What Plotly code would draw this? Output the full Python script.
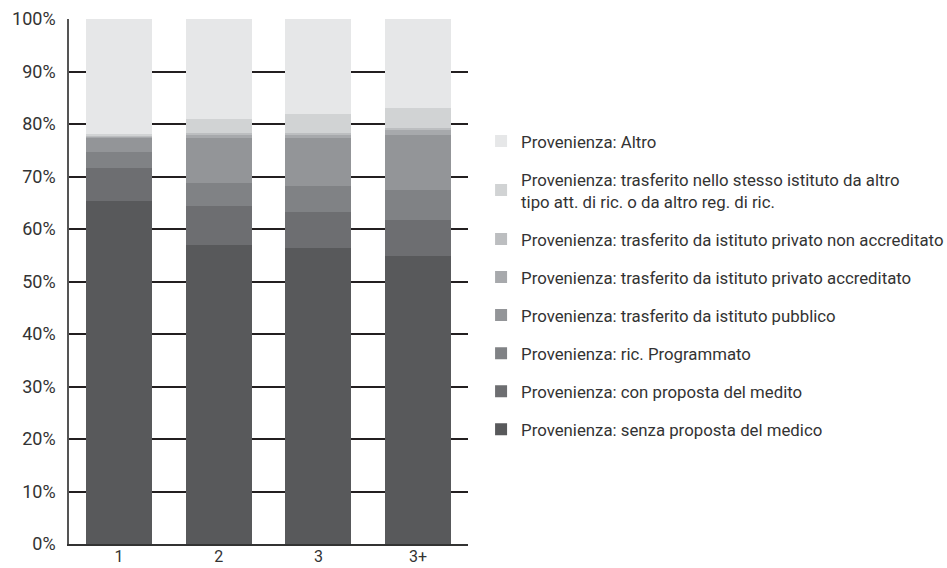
import plotly.graph_objects as go

categories = ["1", "2", "3", "3+"]
series_names = [
    "Provenienza: senza proposta del medico",
    "Provenienza: con proposta del medito",
    "Provenienza: ric. Programmato",
    "Provenienza: trasferito da istituto pubblico",
    "Provenienza: trasferito da istituto privato accreditato",
    "Provenienza: trasferito da istituto privato non accreditato",
    "Provenienza: trasferito nello stesso istituto da altro<br>tipo att. di ric. o da altro reg. di ric.",
    "Provenienza: Altro",
]
senza = [65.4, 57.0, 56.4, 54.9]
con_proposta = [6.2, 7.4, 6.8, 6.8]
ric_programmato = [3.1, 4.4, 5.0, 5.7]
pubblico = [2.8, 8.6, 9.2, 10.5]
privato_accreditato = [0.2, 0.6, 0.6, 0.9]
privato_non_accreditato = [0.2, 0.3, 0.3, 0.4]
stesso_istituto = [0.2, 2.7, 3.6, 3.8]
altro = [21.9, 19.0, 18.1, 17.0]
y_ticks = [0, 10, 20, 30, 40, 50, 60, 70, 80, 90, 100]

series_values = [senza, con_proposta, ric_programmato, pubblico,
                 privato_accreditato, privato_non_accreditato, stesso_istituto, altro]
colors = ["#58595b", "#6d6e71", "#808285", "#939598",
          "#a7a9ac", "#bcbec0", "#d1d3d4", "#e6e7e8"]

FONT = "Roboto, Arial, sans-serif"

fig = go.Figure()
n = len(series_names)
for i, (name, vals, col) in enumerate(zip(series_names, series_values, colors)):
    fig.add_trace(go.Bar(
        x=categories, y=vals, name=name, marker=dict(color=col, line=dict(width=0)),
        legendgroup="g%d" % i, legendrank=n - i,
    ))

fig.update_layout(
    barmode="stack",
    bargap=0.34,
    width=947, height=568,
    margin=dict(l=69, r=479, t=19, b=24),
    paper_bgcolor="white", plot_bgcolor="white",
    font=dict(family=FONT, size=17, color="#333333"),
    showlegend=True,
    legend=dict(
        traceorder="grouped",
        tracegroupgap=13.2,
        xref="container", x=0.508, xanchor="left",
        y=0.493, yanchor="middle",
        font=dict(family=FONT, size=16.8, color="#333333"),
        itemwidth=30,
        bgcolor="rgba(0,0,0,0)",
    ),
    xaxis=dict(
        showline=True, linecolor="#333333", linewidth=1.5,
        ticks="", showgrid=False, automargin=False,
        ticklabelstandoff=-3,
        tickfont=dict(family=FONT, size=16, color="#333333"),
    ),
    yaxis=dict(
        range=[0, 100], tickvals=y_ticks,
        ticktext=["%d%%" % v for v in y_ticks],
        showgrid=True, gridcolor="#231f20", gridwidth=1.5,
        showline=True, linecolor="#555555", linewidth=1.5,
        zeroline=False, ticks="", automargin=False,
        ticklabelstandoff=8,
        tickfont=dict(family=FONT, size=18, color="#333333"),
    ),
)

fig.write_html(
    "out.html",
    config={"displayModeBar": False},
    post_script="document.body.style.margin='0';document.body.style.overflow='hidden';",
)
